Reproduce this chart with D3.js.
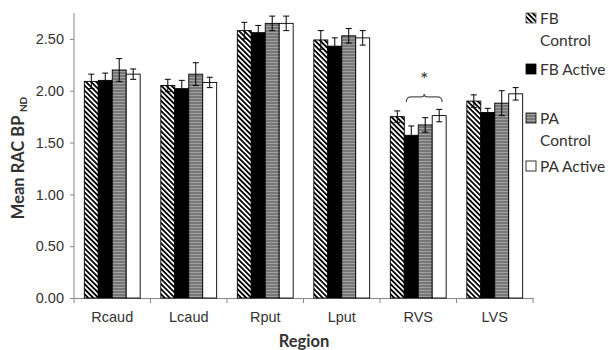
<!DOCTYPE html>
<html>
<head>
<meta charset="utf-8">
<script src="https://cdn.jsdelivr.net/npm/d3@7"></script>
<style>
  body { margin: 0; background: #fff; }
  svg { font-family: Lato, "Open Sans", sans-serif; }
</style>
</head>
<body>
<svg id="chart" width="608" height="350"></svg>
<script>
var regions = ['Rcaud', 'Lcaud', 'Rput', 'Lput', 'RVS', 'LVS'];
var groups = ['FB Control', 'FB Active', 'PA Control', 'PA Active'];
var fbControl = [2.09, 2.05, 2.58, 2.49, 1.75, 1.90];
var fbActive = [2.10, 2.02, 2.56, 2.43, 1.57, 1.79];
var paControl = [2.20, 2.16, 2.65, 2.53, 1.67, 1.88];
var paActive = [2.16, 2.08, 2.65, 2.51, 1.76, 1.97];
var fbControlErr = [0.07, 0.06, 0.08, 0.09, 0.055, 0.06];
var fbActiveErr = [0.07, 0.08, 0.07, 0.08, 0.09, 0.04];
var paControlErr = [0.11, 0.11, 0.07, 0.07, 0.07, 0.12];
var paActiveErr = [0.05, 0.05, 0.07, 0.07, 0.06, 0.06];
var yTicks = [0, 0.5, 1, 1.5, 2, 2.5];

var values = [fbControl, fbActive, paControl, paActive];
var errs = [fbControlErr, fbActiveErr, paControlErr, paActiveErr];
var fills = ['url(#diag)', '#000', 'url(#hstripe)', '#fff'];

var svg = d3.select('#chart');
var defs = svg.append('defs');

var diag = defs.append('pattern')
  .attr('id', 'diag')
  .attr('patternUnits', 'userSpaceOnUse')
  .attr('width', 3.6)
  .attr('height', 3.6)
  .attr('patternTransform', 'rotate(-45)');
diag.append('rect').attr('width', 3.6).attr('height', 3.6).attr('fill', '#fff');
diag.append('rect').attr('width', 1.8).attr('height', 3.6).attr('fill', '#000');

var hs = defs.append('pattern')
  .attr('id', 'hstripe')
  .attr('patternUnits', 'userSpaceOnUse')
  .attr('width', 4)
  .attr('height', 3);
hs.append('rect').attr('width', 4).attr('height', 3).attr('fill', '#777');
hs.append('rect').attr('y', 2).attr('width', 4).attr('height', 1).attr('fill', '#a0a0a0');

var x0 = d3.scaleBand().domain(regions).range([74, 533]).paddingInner(0.27).paddingOuter(0.135);
var x1 = d3.scaleBand().domain(groups).range([0, x0.bandwidth()]);
var y = d3.scaleLinear().domain([0, 2.75]).range([298, 13]);

// axes
var xAxis = svg.append('g')
  .attr('transform', 'translate(0,298)')
  .call(d3.axisBottom(x0).tickSize(0).tickPadding(14));
xAxis.select('.domain').attr('stroke', '#868686');
xAxis.selectAll('text').attr('font-size', 14.5).attr('fill', '#333');
// boundary ticks between categories
var step = (533 - 74) / regions.length;
d3.range(regions.length + 1).forEach(function (i) {
  xAxis.append('line')
    .attr('x1', 74 + i * step).attr('x2', 74 + i * step)
    .attr('y1', 0).attr('y2', 5)
    .attr('stroke', '#868686');
});

var yAxis = svg.append('g')
  .attr('transform', 'translate(74,0)')
  .call(d3.axisLeft(y).tickValues(yTicks).tickFormat(d3.format('.2f')).tickSize(4).tickPadding(6));
yAxis.select('.domain').attr('stroke', '#868686').attr('d', 'M0,298V13');
yAxis.selectAll('.tick line').attr('stroke', '#868686');
yAxis.selectAll('text').attr('font-size', 14.5).attr('fill', '#333');

// bars
var rows = [];
regions.forEach(function (r, i) {
  groups.forEach(function (g, j) {
    rows.push({ region: r, group: g, v: values[j][i], e: errs[j][i], fill: fills[j] });
  });
});

var bar = svg.append('g').selectAll('g')
  .data(rows)
  .join('g')
  .attr('transform', function (d) { return 'translate(' + (x0(d.region) + x1(d.group)) + ',0)'; });

bar.append('rect')
  .attr('y', function (d) { return y(d.v); })
  .attr('width', x1.bandwidth())
  .attr('height', function (d) { return y(0) - y(d.v); })
  .attr('fill', function (d) { return d.fill; })
  .attr('stroke', '#000')
  .attr('stroke-width', 0.9);

var cx = x1.bandwidth() / 2;
bar.append('line')
  .attr('x1', cx).attr('x2', cx)
  .attr('y1', function (d) { return y(d.v + d.e); })
  .attr('y2', function (d) { return y(d.v - d.e); })
  .attr('stroke', '#000');
bar.append('line')
  .attr('x1', cx - 3).attr('x2', cx + 3)
  .attr('y1', function (d) { return y(d.v + d.e); })
  .attr('y2', function (d) { return y(d.v + d.e); })
  .attr('stroke', '#000');
bar.append('line')
  .attr('x1', cx - 3).attr('x2', cx + 3)
  .attr('y1', function (d) { return y(d.v - d.e); })
  .attr('y2', function (d) { return y(d.v - d.e); })
  .attr('stroke', '#000');

// significance brace over RVS
var bx1 = x0('RVS') + x1('FB Active') + 2;
var bx2 = x0('RVS') + x1('PA Active') + x1.bandwidth() - 4;
var bm = (bx1 + bx2) / 2;
var by = y(1.94);
svg.append('path')
  .attr('d', 'M' + bx1 + ',' + (by + 5) + 'Q' + bx1 + ',' + by + ' ' + (bx1 + 5) + ',' + by +
    'L' + (bm - 3) + ',' + by + 'Q' + bm + ',' + by + ' ' + bm + ',' + (by - 3) +
    'Q' + bm + ',' + by + ' ' + (bm + 3) + ',' + by +
    'L' + (bx2 - 5) + ',' + by + 'Q' + bx2 + ',' + by + ' ' + bx2 + ',' + (by + 5))
  .attr('fill', 'none')
  .attr('stroke', '#555')
  .attr('stroke-width', 1.2);
svg.append('text')
  .attr('x', bm).attr('y', by - 11)
  .attr('text-anchor', 'middle')
  .attr('font-size', 20)
  .attr('fill', '#333')
  .text('*');

// axis titles
svg.append('text')
  .attr('x', 304).attr('y', 347)
  .attr('text-anchor', 'middle')
  .attr('font-size', 16.5)
  .attr('font-weight', 'bold')
  .attr('fill', '#333')
  .text('Region');

var yt = svg.append('text')
  .attr('transform', 'translate(24,158) rotate(-90)')
  .attr('text-anchor', 'middle')
  .attr('font-size', 16.5)
  .attr('font-weight', 'bold')
  .attr('fill', '#333');
yt.append('tspan').text('Mean RAC BP ');
yt.append('tspan').attr('font-size', 10).attr('dy', 3).text('ND');

// legend
var legendY = [18, 69, 118, 166];
var legendLines = [['FB', 'Control'], ['FB Active'], ['PA', 'Control'], ['PA Active']];
var leg = svg.append('g').selectAll('g')
  .data(groups)
  .join('g')
  .attr('transform', function (d, i) { return 'translate(526,' + legendY[i] + ')'; });
leg.append('rect')
  .attr('x', 0).attr('y', -5)
  .attr('width', 10).attr('height', 10)
  .attr('fill', function (d, i) { return fills[i]; })
  .attr('stroke', function (d, i) { return i === 0 ? '#555' : '#000'; })
  .attr('stroke-width', 0.8);
leg.each(function (d, i) {
  var g = d3.select(this);
  legendLines[i].forEach(function (t, k) {
    g.append('text')
      .attr('x', 14).attr('y', 5.5 + k * 22)
      .attr('font-size', 15.5)
      .attr('fill', '#333')
      .text(t);
  });
});
</script>
</body>
</html>
